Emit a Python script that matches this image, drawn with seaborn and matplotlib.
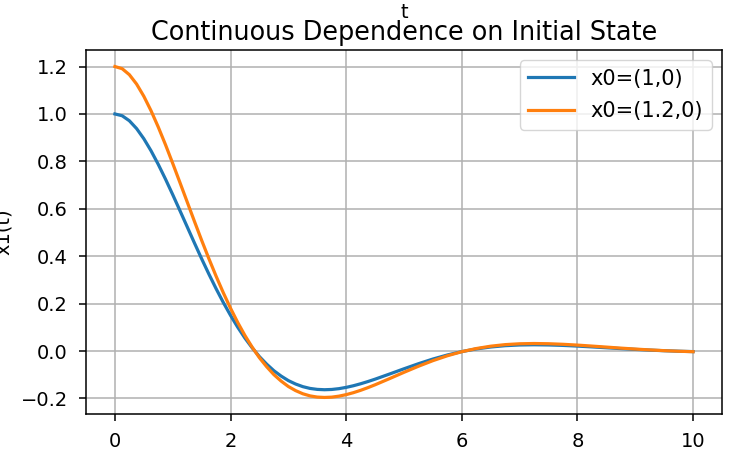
import matplotlib
matplotlib.use("Agg")
import matplotlib.pyplot as plt
import seaborn as sns
import pandas as pd

t = [i * 0.125 for i in range(37)] + [4.75 + 0.25 * i for i in range(22)]
x_a = [1.0, 0.9925, 0.9713, 0.9384, 0.8956, 0.8447, 0.7873, 0.7252, 0.6597, 0.5922,
       0.5243, 0.4562, 0.3894, 0.3250, 0.2633, 0.2050, 0.1506, 0.1003, 0.0544, 0.0135,
       -0.0235, -0.0550, -0.0829, -0.1054, -0.1245, -0.1389, -0.1500, -0.1575, -0.1616, -0.1630,
       -0.1619, -0.1585, -0.1531, -0.1462, -0.1379, -0.1286, -0.1185,
       -0.0968, -0.0747, -0.0533, -0.0336, -0.0165, -0.0022, 0.0090, 0.0172, 0.0227, 0.0257,
       0.0266, 0.0258, 0.0239, 0.0210, 0.0176, 0.0140, 0.0104, 0.0071, 0.0041, 0.0015,
       -0.0006, -0.0022]
x_b = [1.2, 1.1910, 1.1656, 1.1261, 1.0747, 1.0136, 0.9448, 0.8703, 0.7916, 0.7107,
       0.6292, 0.5475, 0.4673, 0.3900, 0.3160, 0.2460, 0.1807, 0.1203, 0.0653, 0.0162,
       -0.0282, -0.0660, -0.0994, -0.1265, -0.1494, -0.1667, -0.1800, -0.1890, -0.1940, -0.1956,
       -0.1943, -0.1901, -0.1837, -0.1754, -0.1655, -0.1543, -0.1422,
       -0.1162, -0.0896, -0.0640, -0.0404, -0.0198, -0.0026, 0.0107, 0.0206, 0.0272, 0.0308,
       0.0319, 0.0310, 0.0286, 0.0252, 0.0211, 0.0168, 0.0125, 0.0085, 0.0049, 0.0018,
       -0.0007, -0.0026]
labels = ["x0=(1,0)", "x0=(1.2,0)"]

df = pd.DataFrame({
    "t": t + t,
    "x1": x_a + x_b,
    "init": [labels[0]] * len(t) + [labels[1]] * len(t),
})

plt.rcParams['font.family'] = ['DejaVu Sans']
fig = plt.figure(figsize=(7.3, 4.54), dpi=100)
ax = fig.add_axes([0.1178, 0.0881, 0.8712, 0.8018])
sns.lineplot(data=df, x="t", y="x1", hue="init", palette=["#1f77b4", "#ff7f0e"],
             linewidth=2.3, ax=ax, sort=False)
ax.grid(True, color="#b0b0b0", linewidth=1.1)
ax.set_axisbelow(True)
ax.tick_params(labelsize=14, length=5, width=1.1, pad=8)
for s in ax.spines.values():
    s.set_linewidth(1.1)
ax.set_title("Continuous Dependence on Initial State", fontsize=18.4, pad=7)
ax.set_xlabel("t", fontsize=14)
ax.xaxis.set_label_coords(0.5, 1.13)
ax.set_ylabel("x1(t)", fontsize=14)
ax.yaxis.set_label_coords(-0.115, 0.5)
leg = ax.legend(title=None, fontsize=15, loc="upper right", handlelength=2.2,
                labelspacing=0.6)
fig.savefig("out.png", dpi=100)
